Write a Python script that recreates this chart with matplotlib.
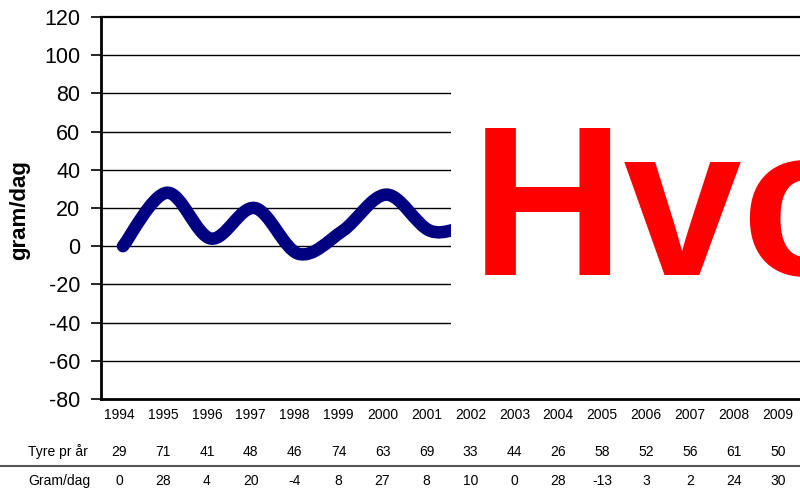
import numpy as np
import matplotlib
matplotlib.use("Agg")
import matplotlib.pyplot as plt
from matplotlib.path import Path
from matplotlib.patches import PathPatch, Rectangle
from matplotlib.lines import Line2D
import matplotlib.transforms as mtransforms

# ---- data ----
years = ["1994", "1995", "1996", "1997", "1998", "1999", "2000", "2001",
         "2002", "2003", "2004", "2005", "2006", "2007", "2008", "2009"]
tyre_pr_aar = [29, 71, 41, 48, 46, 74, 63, 69, 33, 44, 26, 58, 52, 56, 61, 50]
gram_dag = [0, 28, 4, 20, -4, 8, 27, 8, 10, 0, 28, -13, 3, 2, 24, 30]
row_labels = ["Tyre pr år", "Gram/dag"]
y_ticks = [-80, -60, -40, -20, 0, 20, 40, 60, 80, 100, 120]
y_label = "gram/dag"
overlay_text = "Hvor"

W, H = 800, 490
fig = plt.figure(figsize=(W / 100, H / 100), dpi=100)
fig.patch.set_facecolor("white")

narrow = ["Liberation Sans Narrow", "Liberation Sans", "DejaVu Sans"]
sans = ["Liberation Sans", "DejaVu Sans"]

n = len(years)
spacing = 43.93
ax_left, ax_top, ax_bottom = 101, 17, 399
ax_w = n * spacing
ax = fig.add_axes([ax_left / W, 1 - ax_bottom / H, ax_w / W, (ax_bottom - ax_top) / H])
ax.set_xlim(-0.5, n - 0.5)
ax.set_ylim(-80, 120)
ax.set_yticks(y_ticks)
ax.set_yticklabels([str(t) for t in y_ticks], fontfamily=sans, fontsize=15.5)
ax.set_xticks([])
ax.tick_params(axis="y", direction="out", length=7, width=1.2, pad=8, color="black")
for y in y_ticks[1:-1]:
    ax.axhline(y, color="black", lw=1.0, zorder=1)
ax.spines["right"].set_visible(False)
ax.spines["left"].set_linewidth(2)
ax.spines["bottom"].set_linewidth(2)
ax.spines["top"].set_linewidth(1.6)
for s in ("left", "bottom", "top"):
    ax.spines[s].set_color("black")

# smoothed line (Excel-style Bezier through the data points)
pts = np.column_stack([np.arange(n, dtype=float), np.array(gram_dag, dtype=float)])
verts = [tuple(pts[0])]
codes = [Path.MOVETO]
for i in range(n - 1):
    p0 = pts[i - 1] if i > 0 else pts[i]
    p1 = pts[i]
    p2 = pts[i + 1]
    p3 = pts[i + 2] if i + 2 < n else pts[i + 1]
    c1 = p1 + (p2 - p0) / 6.0
    c2 = p2 - (p3 - p1) / 6.0
    verts += [tuple(c1), tuple(c2), tuple(p2)]
    codes += [Path.CURVE4] * 3
patch = PathPatch(Path(verts, codes), facecolor="none", edgecolor="#000080",
                  lw=9, capstyle="round", joinstyle="round", zorder=3)
ax.add_patch(patch)

# data table below the plot
shift = mtransforms.ScaledTranslation(-4 / 100, 0, fig.dpi_scale_trans)
trans = mtransforms.blended_transform_factory(ax.transData, fig.transFigure) + shift
row_y = [415, 452, 481]
for i, yr in enumerate(years):
    fig.text(i, 1 - row_y[0] / H, yr, transform=trans, ha="center", va="center",
             fontsize=10, fontfamily=narrow, color="black")
    fig.text(i, 1 - row_y[1] / H, str(tyre_pr_aar[i]), transform=trans, ha="center",
             va="center", fontsize=10, fontfamily=narrow, color="black")
    fig.text(i, 1 - row_y[2] / H, str(gram_dag[i]), transform=trans, ha="center",
             va="center", fontsize=10, fontfamily=narrow, color="black")
fig.text(28 / W, 1 - row_y[1] / H, row_labels[0], ha="left", va="center",
         fontsize=10, fontfamily=narrow)
fig.text(28 / W, 1 - row_y[2] / H, row_labels[1], ha="left", va="center",
         fontsize=10, fontfamily=narrow)
fig.add_artist(Line2D([0, 1], [1 - 466 / H, 1 - 466 / H], transform=fig.transFigure,
                      color="#555555", lw=1.5))

# y label
fig.text(20 / W, 1 - 210 / H, y_label, rotation=90, ha="center", va="center",
         fontsize=16, fontweight="bold", fontfamily=sans)

# white overlay box and big red text
fig.add_artist(Rectangle((451 / W, 1 - 345 / H), (W - 451) / W + 0.05, (345 - 68) / H,
                         transform=fig.transFigure, facecolor="white",
                         edgecolor="none", zorder=10))
fig.text(471 / W, 1 - 275 / H, overlay_text, ha="left", va="baseline",
         fontsize=153, fontweight="bold", fontfamily=sans, color="#FF0000", zorder=11)

fig.savefig("out.png", dpi=100)
